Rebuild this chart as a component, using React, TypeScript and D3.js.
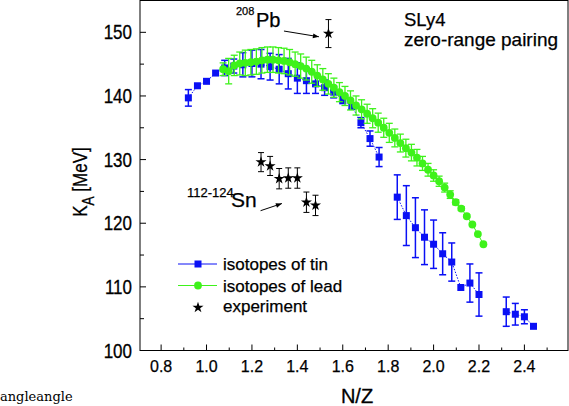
import React from "react";
import * as d3 from "d3";

// tin isotopes (Z = 50)
const tinNZ = [0.92, 0.96, 1.0, 1.04, 1.08, 1.12, 1.16, 1.2, 1.24, 1.28, 1.32, 1.36, 1.4, 1.44, 1.48, 1.52, 1.56, 1.6, 1.64, 1.68, 1.72, 1.76,
  1.84, 1.88, 1.92, 1.96, 2.0, 2.04, 2.08, 2.12, 2.16, 2.2, 2.32, 2.36, 2.4, 2.44];
const tinK = [139.7, 141.6, 142.3, 143.6, 144.4, 144.7, 144.9, 145.1, 145.0, 144.6, 144.2, 143.5, 142.8, 142.4, 141.9, 141.3, 140.6, 139.4, 138.4, 135.8, 133.3, 130.4,
  124.1, 121.2, 119.3, 117.8, 116.7, 115.2, 113.9, 109.9, 110.6, 108.8, 106.1, 105.7, 105.3, 103.8];
const tinErr = [1.3, 0, 0, 0, 1.2, 1.1, 1.9, 2.1, 2.3, 2.1, 2.3, 2.4, 2.4, 2.0, 1.5, 1.2, 0.9, 0.6, 0.5, 0.8, 1.2, 1.5,
  3.5, 4.7, 4.7, 4.3, 3.8, 3.3, 3.0, 0, 3.0, 3.4, 2.3, 1.7, 1.1, 0];

// lead isotopes (Z = 82), neutron numbers
const leadZ = 82;
const leadN = [88, 90, 92, 94, 96, 98, 100, 102, 104, 106, 108, 110, 112, 114, 116, 118, 120, 122, 124, 126,
  128, 130, 132, 134, 136, 138, 140, 142, 144, 146, 148, 150, 152, 154, 156, 158, 160, 162, 164, 166, 168, 170, 172, 174, 176, 178, 180, 182];
const leadK = [144.2, 143.9, 144.8, 145.1, 145.2, 145.3, 145.4, 145.6, 145.7, 145.7, 145.6, 145.5, 145.3, 145.0, 144.7, 144.3, 143.8, 143.2, 142.6, 141.9,
  141.3, 140.6, 140.0, 139.3, 138.5, 137.9, 137.2, 136.5, 135.8, 135.0, 134.2, 133.4, 132.6, 131.8, 131.1, 130.3, 129.4, 128.4, 127.5, 126.6, 125.6, 124.5, 123.3, 122.3, 121.1, 119.8, 118.3, 116.7];
const leadErr = [1.0, 2.0, 1.6, 1.8, 2.0, 2.0, 2.0, 2.0, 2.0, 2.0, 2.0, 2.0, 2.0, 1.9, 1.9, 1.8, 1.8, 1.7, 1.7, 1.6,
  1.5, 1.5, 1.5, 1.5, 1.5, 1.5, 1.5, 1.5, 1.5, 1.5, 1.5, 1.4, 1.4, 1.4, 1.3, 1.3, 1.1, 1.0, 0.9, 0.8, 0.7, 0.6, 0.4, 0.3, 0.2, 0, 0, 0];

// experiment: 112-124Sn and 208Pb
const expNZ = [1.24, 1.28, 1.32, 1.36, 1.4, 1.44, 1.48, 1.537];
const expK = [129.6, 129.0, 127.0, 127.1, 127.1, 123.3, 122.8, 149.8];
const expErr = [1.5, 1.5, 1.6, 1.6, 1.6, 1.6, 1.6, 2.2];

const xTicks = [0.8, 1.0, 1.2, 1.4, 1.6, 1.8, 2.0, 2.2, 2.4];
const xMinor = [0.9, 1.1, 1.3, 1.5, 1.7, 1.9, 2.1, 2.3, 2.5];
const yTicks = [100, 110, 120, 130, 140, 150];
const yMinor = [105, 115, 125, 135, 145];

const BLUE = "#0a10f5";
const GREEN = "#3ef21a";
const SANS = "'Liberation Sans', Arial, sans-serif";

const W = 569;
const H = 406;

export default function App() {
  const x = d3.scaleLinear().domain([0.707, 2.592]).range([140, 568]);
  const y = d3.scaleLinear().domain([100, 155]).range([350.5, 0.5]);

  const tin = tinNZ.map((nz, i) => ({ nz, k: tinK[i], e: tinErr[i] }));
  const lead = leadN.map((n, i) => ({ nz: n / leadZ, k: leadK[i], e: leadErr[i] }));
  const exp = expNZ.map((nz, i) => ({ nz, k: expK[i], e: expErr[i] }));

  // break the tin line where isotopes are missing
  const tinRuns: typeof tin[] = [];
  tin.forEach((d, i) => {
    if (i === 0 || d.nz - tin[i - 1].nz > 0.05) tinRuns.push([]);
    tinRuns[tinRuns.length - 1].push(d);
  });

  const line = d3.line<{ nz: number; k: number }>().x((d) => x(d.nz)).y((d) => y(d.k));
  const star = d3.symbol().type(d3.symbolStar).size(38)();

  const errBars = (data: { nz: number; k: number; e: number }[], color: string, cap: number, sw: number) =>
    data.filter((d) => d.e > 0).map((d, i) => {
      const cx = x(d.nz);
      const y1 = y(d.k + d.e);
      const y2 = y(d.k - d.e);
      return (
        <g key={i} stroke={color} strokeWidth={sw}>
          <line x1={cx} x2={cx} y1={y1} y2={y2} />
          <line x1={cx - cap} x2={cx + cap} y1={y1} y2={y1} />
          <line x1={cx - cap} x2={cx + cap} y1={y2} y2={y2} />
        </g>
      );
    });

  const [x0, x1] = x.range();
  const [yb, yt] = y.range();

  return (
    <svg width={W} height={H} style={{ position: "absolute", left: 0, top: 0, background: "#fff" }}>
      <defs>
        <marker id="arr" viewBox="0 0 10 10" refX="10" refY="5" markerWidth="7" markerHeight="6" orient="auto">
          <path d="M0,1 L10,5 L0,9 z" fill="#000" />
        </marker>
      </defs>

      {/* tin */}
      {tinRuns.map((run, i) => (
        <path key={i} d={line(run) ?? ""} fill="none" stroke={BLUE} strokeWidth={1} strokeDasharray="1.5 1.5" />
      ))}
      {errBars(tin, BLUE, 3.5, 1.5)}
      {tin.map((d, i) => (
        <rect key={i} x={x(d.nz) - 3.5} y={y(d.k) - 3.5} width={7} height={7} fill={BLUE} />
      ))}

      {/* lead */}
      <path d={line(lead) ?? ""} fill="none" stroke={GREEN} strokeWidth={1} />
      {errBars(lead, GREEN, 3.5, 1.3)}
      {lead.map((d, i) => (
        <circle key={i} cx={x(d.nz)} cy={y(d.k)} r={3.9} fill={GREEN} />
      ))}

      {/* experiment */}
      {errBars(exp, "#000", 3, 1)}
      {exp.map((d, i) => (
        <path key={i} d={star ?? ""} transform={`translate(${x(d.nz)},${y(d.k)})`} fill="#000" />
      ))}

      {/* frame */}
      <rect x={x0} y={yt} width={x1 - x0} height={yb - yt} fill="none" stroke="#000" strokeWidth={1} />

      {/* ticks */}
      {xTicks.map((t) => (
        <line key={t} x1={x(t)} x2={x(t)} y1={yb} y2={yb - 6} stroke="#000" />
      ))}
      {xMinor.map((t) => (
        <line key={t} x1={x(t)} x2={x(t)} y1={yb} y2={yb - 3} stroke="#000" />
      ))}
      {yTicks.map((t) => (
        <line key={t} x1={x0} x2={x0 + 6} y1={y(t)} y2={y(t)} stroke="#000" />
      ))}
      {yMinor.map((t) => (
        <line key={t} x1={x0} x2={x0 + 4} y1={y(t)} y2={y(t)} stroke="#000" />
      ))}

      {/* tick labels */}
      <g fontFamily={SANS} fontSize={16} textAnchor="middle" stroke="#000" strokeWidth={0.25}>
        {xTicks.map((t) => (
          <text key={t} x={x(t)} y={372}>{d3.format(".1f")(t)}</text>
        ))}
      </g>
      <g fontFamily={SANS} fontSize={20} textAnchor="end" stroke="#000" strokeWidth={0.3}>
        {yTicks.map((t) => (
          <text key={t} transform={`translate(132,${y(t) + 7}) scale(0.85,1)`}>{t}</text>
        ))}
      </g>

      {/* axis titles */}
      <text x={357} y={403} fontFamily={SANS} fontSize={20} textAnchor="middle" stroke="#000" strokeWidth={0.3}>N/Z</text>
      <text transform="translate(87,182) rotate(-90) scale(0.85,1)" fontFamily={SANS} fontSize={20} textAnchor="middle" stroke="#000" strokeWidth={0.3}>
        K<tspan fontSize={16} dy={7}>A</tspan><tspan dy={-7}> [MeV]</tspan>
      </text>

      {/* annotations */}
      <g fontFamily={SANS} stroke="#000" strokeWidth={0.25}>
        <text x={404} y={26} fontSize={18.5}>SLy4</text>
        <text x={404} y={46} fontSize={18.5} textLength={154} lengthAdjust="spacingAndGlyphs">zero-range pairing</text>
        <text x={236} y={15} fontSize={11}>208</text>
        <text x={256} y={26.5} fontSize={20}>Pb</text>
        <text x={187} y={196.5} fontSize={13}>112-124</text>
        <text x={231} y={206.5} fontSize={21}>Sn</text>
      </g>
      <line x1={x(1.341)} y1={y(150.2)} x2={x(1.495)} y2={y(149.3)} stroke="#000" strokeWidth={1} markerEnd="url(#arr)" />
      <line x1={x(1.238)} y1={y(121.97)} x2={x(1.332)} y2={y(123.1)} stroke="#000" strokeWidth={1} markerEnd="url(#arr)" />

      {/* legend */}
      <g fontFamily={SANS} fontSize={17}>
        <line x1={178} x2={217} y1={264} y2={264} stroke={BLUE} />
        <rect x={194.5} y={260.5} width={7} height={7} fill={BLUE} />
        <text x={223} y={270} stroke="#000" strokeWidth={0.25}>isotopes of tin</text>
        <line x1={178} x2={217} y1={285.5} y2={285.5} stroke={GREEN} />
        <circle cx={198} cy={285.5} r={3.9} fill={GREEN} />
        <text x={223} y={291.5} stroke="#000" strokeWidth={0.25}>isotopes of lead</text>
        <path d={star ?? ""} transform="translate(198,307.5)" fill="#000" />
        <text x={223} y={312} stroke="#000" strokeWidth={0.25}>experiment</text>
      </g>

      <text x={0} y={401} fontFamily="'DejaVu Serif', serif" fontSize={13}>angleangle</text>
    </svg>
  );
}
